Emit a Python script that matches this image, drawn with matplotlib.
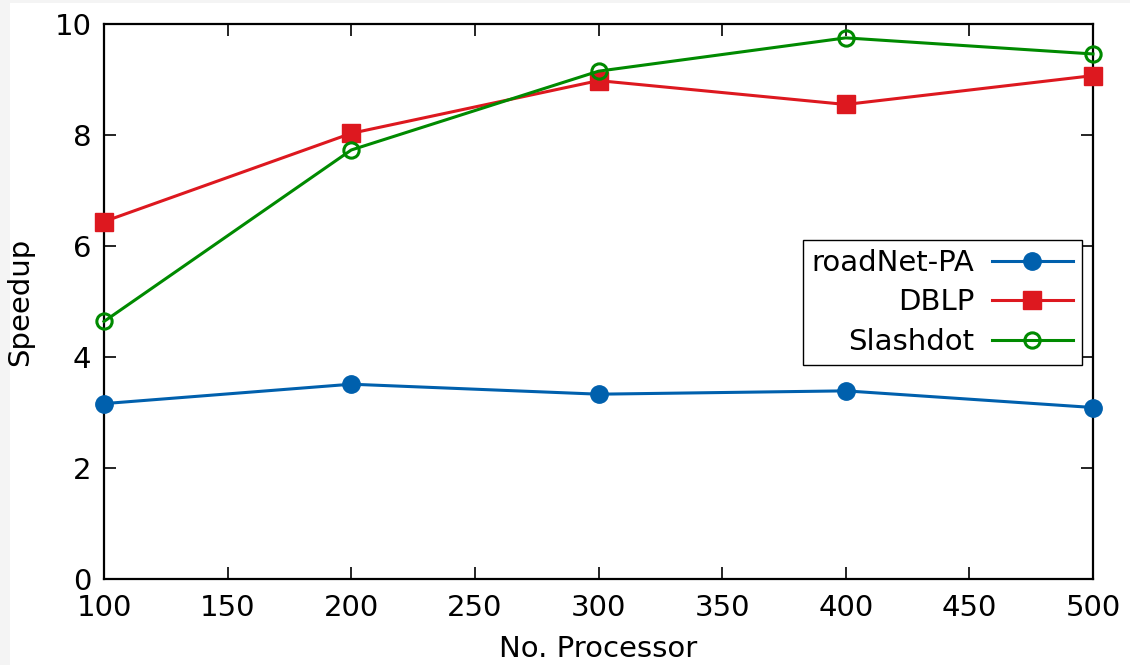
import matplotlib
matplotlib.use("Agg")
import matplotlib.pyplot as plt
from matplotlib.patches import Rectangle

processors = [100, 200, 300, 400, 500]
roadnet = [3.16, 3.51, 3.33, 3.39, 3.09]
dblp = [6.44, 8.03, 8.98, 8.55, 9.07]
slashdot = [4.64, 7.73, 9.15, 9.75, 9.46]
series_labels = ["roadNet-PA", "DBLP", "Slashdot"]
xticks = [100, 150, 200, 250, 300, 350, 400, 450, 500]
yticks = [0, 2, 4, 6, 8, 10]

plt.rcParams['font.family'] = ['DejaVu Sans']
fig = plt.figure(figsize=(11.3, 6.65), dpi=100)
fig.patch.set_facecolor('#f4f4f4')
fig.patches.append(Rectangle((10/1130, 0), 1 - 10/1130, 1 - 3/665, transform=fig.transFigure,
                             facecolor='white', edgecolor='none', zorder=-10))
ax = fig.add_axes([104/1130, (665-579)/665, (1093-104)/1130, (579-24)/665])
ax.set_zorder(1)
ax.set_facecolor('white')

blue = '#0060ad'
red = '#dd181f'
green = '#008a00'
ax.plot(processors, roadnet, color=blue, lw=2.2, marker='o', ms=12.5,
        mfc=blue, mec=blue, label=series_labels[0], clip_on=False, zorder=3)
ax.plot(processors, dblp, color=red, lw=2.2, marker='s', ms=13,
        mfc=red, mec=red, label=series_labels[1], clip_on=False, zorder=3)
ax.plot(processors, slashdot, color=green, lw=2.2, marker='o', ms=11,
        mfc='none', mec=green, mew=2.2, label=series_labels[2], clip_on=False, zorder=3)

ax.set_xlim(100, 500)
ax.set_ylim(0, 10)
ax.set_xticks(xticks)
ax.set_yticks(yticks)
ax.tick_params(direction='in', length=8.5, width=1.2, labelsize=21, top=True, right=True)
ax.tick_params(axis='x', pad=11)
ax.tick_params(axis='y', pad=9)
for s in ax.spines.values():
    s.set_linewidth(1.6)
ax.set_xlabel("No. Processor", fontsize=21, labelpad=9)
ax.set_ylabel("Speedup", fontsize=21, labelpad=15)

leg = ax.legend(loc='upper right', bbox_to_anchor=(1082/1130, (665-240)/665),
                bbox_transform=fig.transFigure, markerfirst=False, fontsize=21,
                frameon=True, fancybox=False, edgecolor='black', framealpha=1,
                handlelength=2.8, borderpad=0.3, labelspacing=0.4, handletextpad=0.6,
                borderaxespad=0)
leg.get_frame().set_linewidth(1.0)
for t in leg.get_texts():
    t.set_ha('right')
leg._legend_box.align = "right"

fig.savefig("out.png", dpi=100)
